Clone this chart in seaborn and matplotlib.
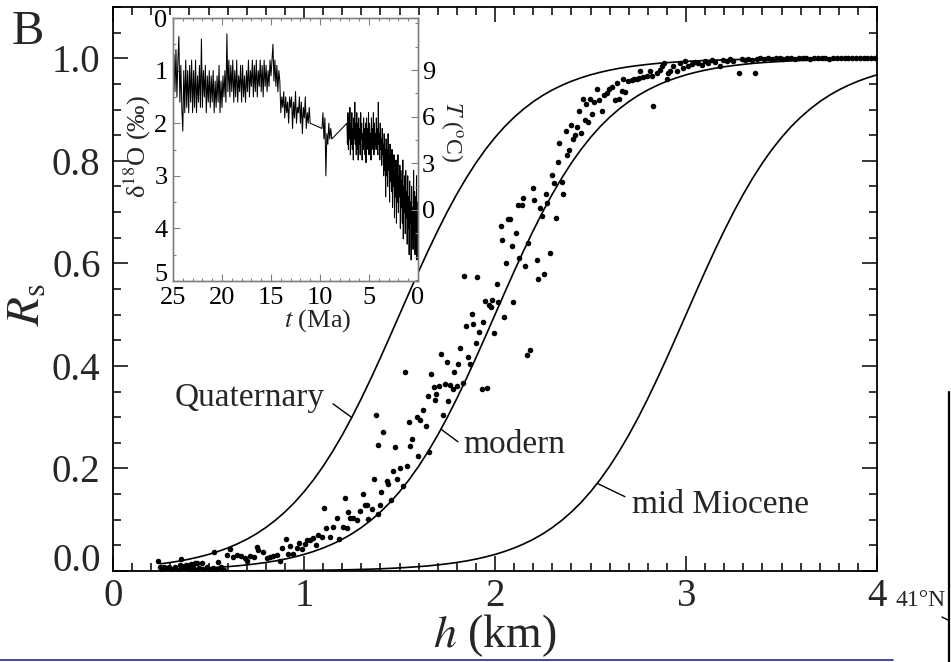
import numpy as np
import matplotlib
matplotlib.use("Agg")
import matplotlib.pyplot as plt
import seaborn as sns
from matplotlib.ticker import MultipleLocator, FormatStrFormatter
from matplotlib.lines import Line2D

# ---------------- data ----------------
h_grid = np.round(np.linspace(0.25, 4.0, 76), 3)

R_quaternary = [0.0141, 0.0166, 0.0196, 0.0232, 0.0274, 0.0323, 0.0381, 0.0448, 0.0527, 0.0618,
                0.0724, 0.0847, 0.0989, 0.1151, 0.1335, 0.1545, 0.1780, 0.2042, 0.2333, 0.2650,
                0.2994, 0.3363, 0.3752, 0.4158, 0.4576, 0.5000, 0.5424, 0.5842, 0.6248, 0.6637,
                0.7006, 0.7350, 0.7667, 0.7958, 0.8220, 0.8455, 0.8665, 0.8849, 0.9011, 0.9153,
                0.9276, 0.9382, 0.9473, 0.9552, 0.9619, 0.9677, 0.9726, 0.9768, 0.9804, 0.9834,
                0.9859, 0.9881, 0.9900, 0.9915, 0.9928, 0.9939, 0.9949, 0.9957, 0.9964, 0.9969,
                0.9974, 0.9978, 0.9982, 0.9984, 0.9987, 0.9989, 0.9991, 0.9992, 0.9993, 0.9994,
                0.9995, 0.9996, 0.9997, 0.9997, 0.9998, 0.9998]

R_modern = [0.0026, 0.0031, 0.0036, 0.0043, 0.0051, 0.0061, 0.0072, 0.0085, 0.0100, 0.0119,
            0.0141, 0.0166, 0.0196, 0.0232, 0.0274, 0.0323, 0.0381, 0.0448, 0.0527, 0.0618,
            0.0724, 0.0847, 0.0989, 0.1151, 0.1335, 0.1545, 0.1780, 0.2042, 0.2333, 0.2650,
            0.2994, 0.3363, 0.3752, 0.4158, 0.4576, 0.5000, 0.5424, 0.5842, 0.6248, 0.6637,
            0.7006, 0.7350, 0.7667, 0.7958, 0.8220, 0.8455, 0.8665, 0.8849, 0.9011, 0.9153,
            0.9276, 0.9382, 0.9473, 0.9552, 0.9619, 0.9677, 0.9726, 0.9768, 0.9804, 0.9834,
            0.9859, 0.9881, 0.9900, 0.9915, 0.9928, 0.9939, 0.9949, 0.9957, 0.9964, 0.9969,
            0.9974, 0.9978, 0.9982, 0.9984, 0.9987, 0.9989]

R_miocene = [0.0001, 0.0001, 0.0001, 0.0001, 0.0002, 0.0002, 0.0002, 0.0003, 0.0003, 0.0004,
             0.0005, 0.0006, 0.0007, 0.0008, 0.0009, 0.0011, 0.0013, 0.0016, 0.0018, 0.0022,
             0.0026, 0.0031, 0.0036, 0.0043, 0.0051, 0.0061, 0.0072, 0.0085, 0.0100, 0.0119,
             0.0141, 0.0166, 0.0196, 0.0232, 0.0274, 0.0323, 0.0381, 0.0448, 0.0527, 0.0618,
             0.0724, 0.0847, 0.0989, 0.1151, 0.1335, 0.1545, 0.1780, 0.2042, 0.2333, 0.2650,
             0.2994, 0.3363, 0.3752, 0.4158, 0.4576, 0.5000, 0.5424, 0.5842, 0.6248, 0.6637,
             0.7006, 0.7350, 0.7667, 0.7958, 0.8220, 0.8455, 0.8665, 0.8849, 0.9011, 0.9153,
             0.9276, 0.9382, 0.9473, 0.9552, 0.9619, 0.9677]

# observed points (h in km, Rs)
h_obs = [0.246, 0.255, 0.267, 0.281, 0.295, 0.307, 0.325, 0.342, 0.360, 0.372, 0.389, 0.403,
         0.417, 0.435, 0.452, 0.473, 0.494, 0.508, 0.525, 0.546, 0.565, 0.581, 0.350, 0.382,
         0.410, 0.429, 0.442, 0.464, 0.234, 0.356, 0.551, 0.531, 0.595, 0.613, 0.630, 0.647,
         0.668, 0.691, 0.700, 0.717, 0.738, 0.752, 0.761, 0.787, 0.805, 0.822, 0.839, 0.857,
         0.874, 0.887, 0.904, 0.918, 0.927, 0.944, 0.962, 0.976, 0.988, 1.005, 1.014, 1.031,
         1.049, 1.063, 1.075, 1.093, 1.105, 1.115, 1.136, 1.154, 1.171, 1.185, 1.206, 1.215,
         1.227, 1.232, 1.241, 1.258, 1.279, 1.293, 1.307, 1.320, 1.328, 1.337, 1.354, 1.368,
         1.389, 1.398, 1.403, 1.433, 1.442, 1.455, 1.468, 1.489, 1.517,
         # middle part
         2.148, 2.265, 2.122, 2.139, 2.206, 2.235, 2.247, 2.274, 2.079, 2.070, 2.030, 2.108,
         2.038, 2.174, 2.087, 2.127, 2.058, 2.218, 2.288, 2.157, 2.256, 2.227, 1.838, 1.906,
         2.009, 1.948, 1.971, 1.986, 1.979, 2.017, 2.096, 1.878, 1.848, 1.887, 1.939, 2.049,
         1.916, 1.996, 1.899, 1.817, 1.860, 1.717, 1.747, 1.808, 1.869, 1.787, 2.183, 2.169,
         1.529, 1.665, 1.681, 1.709, 1.738, 1.764, 1.778, 1.799, 1.831, 1.930, 1.956, 1.647,
         1.691, 1.686, 1.756, 1.621, 1.590, 1.607, 1.550, 1.729, 1.637, 1.377, 1.415, 1.564,
         1.389, 1.476, 1.555, 1.599, 1.656, 1.503, 1.538,
         # upper part
         2.197, 2.300, 2.309, 2.319, 2.328, 2.336, 2.349, 2.358, 2.372, 2.379, 2.389, 2.398,
         2.406, 2.419, 2.428, 2.440, 2.449, 2.459, 2.471, 2.477, 2.489, 2.497, 2.510, 2.518,
         2.532, 2.546, 2.558, 2.571, 2.585, 2.599, 2.614, 2.628, 2.637, 2.651, 2.663, 2.672,
         2.681, 2.698, 2.716, 2.728, 2.742, 2.756, 2.759, 2.777, 2.794, 2.811, 2.820, 2.829,
         2.846, 2.864, 2.873, 2.885, 2.898, 2.907, 2.916, 2.933, 2.951, 2.968, 2.982, 2.995,
         3.012, 3.029, 3.047, 3.064, 3.082, 3.099, 3.117, 3.134, 3.152, 3.178, 3.195, 3.213,
         3.230, 3.248, 3.279, 3.291, 3.308, 3.326, 3.343, 3.361,
         # saturated tail
         3.37, 3.39, 3.41, 3.43, 3.45, 3.47, 3.49, 3.51, 3.53, 3.55, 3.57, 3.59, 3.61, 3.63,
         3.65, 3.67, 3.69, 3.71, 3.73, 3.75, 3.77, 3.79, 3.81, 3.83, 3.85, 3.87, 3.89, 3.91,
         3.93, 3.95, 3.97, 3.99]

R_obs = [0.0085, 0.0033, 0.0072, 0.0052, 0.0085, 0.0033, 0.0072, 0.0020, 0.0098, 0.0052, 0.0085, 0.0033,
         0.0072, 0.0020, 0.0052, 0.0033, 0.0072, 0.0020, 0.0052, 0.0033, 0.0072, 0.0020, 0.0125, 0.0117,
         0.0135, 0.0150, 0.0163, 0.0163, 0.0195, 0.0234, 0.0176, 0.0365, 0.0313, 0.0430, 0.0280, 0.0313,
         0.0293, 0.0247, 0.0202, 0.0293, 0.0280, 0.0475, 0.0410, 0.0378, 0.0247, 0.0280, 0.0293, 0.0313,
         0.0202, 0.0456, 0.0620, 0.0332, 0.0488, 0.0340, 0.0443, 0.0540, 0.0430, 0.0527, 0.0605, 0.0605,
         0.0638, 0.0508, 0.0700, 0.0671, 0.1237, 0.0846, 0.0671, 0.0866, 0.1029, 0.0620, 0.0866, 0.1430,
         0.0846, 0.1160, 0.1029, 0.1029, 0.1000, 0.1170, 0.1500, 0.1290, 0.1290, 0.1010, 0.1211, 0.1800,
         0.1120, 0.1280, 0.1540, 0.1750, 0.1700, 0.1390, 0.1960, 0.1790, 0.1660,
         0.728, 0.736, 0.713, 0.713, 0.723, 0.708, 0.693, 0.718, 0.6875, 0.686, 0.673, 0.660,
         0.646, 0.640, 0.633, 0.611, 0.601, 0.606, 0.620, 0.594, 0.580, 0.570, 0.576, 0.573,
         0.560, 0.527, 0.519, 0.529, 0.515, 0.524, 0.525, 0.501, 0.477, 0.481, 0.486, 0.495,
         0.467, 0.464, 0.445, 0.434, 0.417, 0.423, 0.407, 0.404, 0.404, 0.389, 0.432, 0.422,
         0.388, 0.384, 0.358, 0.360, 0.365, 0.363, 0.355, 0.360, 0.366, 0.354, 0.356, 0.342,
         0.346, 0.334, 0.332, 0.314, 0.301, 0.295, 0.290, 0.305, 0.282, 0.305, 0.271, 0.257,
         0.246, 0.241, 0.244, 0.225, 0.232, 0.200, 0.205,
         0.747, 0.773, 0.756, 0.689, 0.797, 0.835, 0.759, 0.736, 0.858, 0.812, 0.822, 0.869,
         0.843, 0.850, 0.865, 0.897, 0.855, 0.920, 0.880, 0.911, 0.876, 0.921, 0.892, 0.915,
         0.940, 0.918, 0.898, 0.928, 0.933, 0.941, 0.943, 0.918, 0.951, 0.920, 0.936, 0.959,
         0.935, 0.956, 0.958, 0.960, 0.959, 0.962, 0.975, 0.964, 0.965, 0.975, 0.966, 0.907,
         0.972, 0.978, 0.985, 0.990, 0.960, 0.972, 0.975, 0.985, 0.975, 0.991, 0.982, 0.995,
         0.985, 0.988, 0.993, 0.990, 0.986, 0.995, 0.991, 0.996, 0.993, 0.985, 0.996, 0.994,
         0.998, 0.995, 0.972, 0.998, 0.996, 0.999, 0.996, 0.972,
         0.999, 1.000, 0.999, 1.000, 0.999, 1.000, 1.000, 0.999, 1.000, 1.000, 0.999, 1.000,
         1.000, 1.000, 0.999, 1.000, 1.000, 1.000, 1.000, 0.999, 1.000, 1.000, 1.000, 1.000,
         1.000, 1.000, 1.000, 1.000, 1.000, 1.000, 1.000, 1.000]

# inset: benthic d18O record, three sampled segments (start Ma, end Ma)
seg1_span = (25.0, 11.0)
d18O_seg1 = [1.2, 0.7, 1.4, 0.6, 1.5, 0.8, 0.35, 1.6, 0.9, 1.7,
             2.15, 1.0, 1.8, 0.8, 1.7, 1.0, 1.8, 0.9, 1.6, 0.8,
             1.8, 1.0, 1.7, 0.8, 1.8, 1.1, 1.6, 0.9, 1.7, 0.4,
             1.7, 1.0, 1.5, 0.9, 1.8, 1.1, 1.6, 1.0, 1.7, 1.1,
             1.6, 1.0, 1.8, 1.2, 1.7, 1.1, 1.6, 0.9, 1.8, 1.2,
             1.7, 1.1, 1.5, 1.0, 1.6, 0.3, 1.4, 0.8, 1.5, 0.9,
             1.4, 0.8, 1.6, 1.0, 1.5, 0.8, 1.6, 1.1, 1.4, 0.9,
             1.6, 0.9, 1.5, 1.1, 1.6, 1.0, 1.4, 0.8, 1.5, 1.0,
             1.3, 0.8, 1.5, 0.9, 1.4, 0.8, 1.5, 1.0, 1.3, 0.8,
             1.4, 0.9, 1.5, 0.8, 1.3, 0.9, 1.4, 1.0, 1.3, 0.8,
             1.1, 0.8, 0.5, 1.2, 0.8, 1.3, 0.9, 1.4, 1.0, 1.2,
             1.8, 1.5, 1.7, 1.4, 1.9, 1.5, 1.8, 1.6, 2.0, 1.5,
             1.7, 1.5, 2.1, 1.6, 1.9, 1.4, 2.0, 1.7, 1.8, 1.5,
             2.0, 1.6, 2.2, 1.7, 1.9, 1.5, 2.1, 1.8, 2.0, 1.7,
             2.0]
seg2_span = (9.8, 8.8)
d18O_seg2 = [2.1, 1.8, 2.3, 1.9, 3.0, 2.2, 2.4, 2.0, 2.3, 2.1, 2.3]
seg3_span = (7.25, 0.0)
d18O_seg3 = [2.0, 2.4, 1.8, 2.5, 1.9, 2.3, 1.7, 2.6, 2.0, 2.4, 1.8, 2.5, 2.1, 2.7, 1.9, 2.3, 1.6, 2.4, 2.0, 2.6,
             1.8, 2.5, 2.0, 2.7, 1.9, 2.4, 2.1, 2.6, 1.8, 2.3, 2.0, 2.7, 2.2, 2.5, 1.9, 2.4, 2.1, 2.6, 2.0, 2.75,
             1.9, 2.4, 2.1, 2.5, 1.8, 2.6, 2.0, 2.3, 2.2, 2.7, 1.9, 2.5, 2.1, 2.4, 1.8, 2.6, 2.0, 2.5, 2.2, 2.4,
             1.9, 2.5, 2.1, 2.6, 1.6, 2.4, 2.2, 2.7, 2.0, 2.5, 2.3, 2.8, 2.1, 2.6, 2.4, 3.0, 2.2, 2.9, 2.5, 3.4,
             2.3, 3.0, 2.5, 3.2, 2.2, 2.9, 2.6, 3.5, 2.4, 3.1, 2.7, 3.3, 2.5, 3.6, 2.8, 3.2, 2.6, 3.8, 2.9, 3.4,
             2.7, 3.9, 2.8, 3.5, 2.6, 3.7, 3.0, 3.4, 2.8, 4.0, 2.9, 3.6, 3.1, 3.9, 2.7, 4.2, 3.2, 3.7, 3.0, 4.1,
             2.9, 3.8, 3.3, 4.3, 3.0, 4.0, 3.4, 4.5, 3.1, 3.9, 3.5, 4.6, 3.2, 4.2, 3.6, 4.4, 2.9, 4.1, 3.3, 4.5,
             3.4, 4.3, 3.0, 4.6, 3.5, 4.0]

# temperature axis limits matching d18O = 0 (top) and 5 (bottom)
T_at_top, T_at_bottom = 12.35, -4.57
T_ticks = [0, 3, 6, 9]

curve_labels = ["Quaternary", "modern", "mid Miocene"]

# ---------------- style ----------------
sns.set_theme(style="white")
plt.rcParams['font.family'] = ['Liberation Serif', 'DejaVu Serif']
plt.rcParams['mathtext.fontset'] = 'stix'
plt.rcParams['axes.edgecolor'] = 'black'

W, H = 951, 662
fig = plt.figure(figsize=(W / 100, H / 100), dpi=100)
fig.patch.set_facecolor('white')

# main axes
ax = fig.add_axes([113 / W, 1 - 571 / H, 764 / W, 564 / H])
for R_curve in (R_quaternary, R_modern, R_miocene):
    sns.lineplot(x=h_grid, y=R_curve, ax=ax, color='black', lw=1.2, estimator=None)
sns.scatterplot(x=h_obs, y=R_obs, ax=ax, color='black', s=16, linewidth=0, zorder=3)

ax.set_xlim(0, 4)
ax.set_ylim(0, 1.1)
ax.xaxis.set_major_locator(MultipleLocator(1))
ax.xaxis.set_minor_locator(MultipleLocator(0.1))
ax.yaxis.set_major_locator(MultipleLocator(0.2))
ax.yaxis.set_minor_locator(MultipleLocator(0.05))
ax.yaxis.set_major_formatter(FormatStrFormatter('%.1f'))
for s in ax.spines.values():
    s.set_color('black')
    s.set_linewidth(1.3)
ax.tick_params(which='both', direction='in', top=True, right=True, bottom=True, left=True,
               color='black', width=1.1)
ax.tick_params(which='major', length=11)
ax.tick_params(which='minor', length=5.5)
ax.tick_params(axis='y', which='major', labelsize=28, pad=9)
ax.tick_params(axis='x', which='major', labelsize=28, pad=5)

ax.set_xlabel(r'$h$ (km)', fontsize=33, va='center')
ax.xaxis.set_label_coords(0.5, -0.115)
ax.set_ylabel(r'$R_{\rm s}$', fontsize=34, va='center', ha='center')
ax.yaxis.set_label_coords(-0.111, 0.472)

# curve annotations
ax.text(1.11, 0.338, curve_labels[0], ha='right', va='center', fontsize=24)
ax.plot([1.152, 1.25], [0.326, np.interp(1.25, h_grid, R_quaternary)], color='black', lw=1.0)
ax.text(1.832, 0.246, curve_labels[1], ha='left', va='center', fontsize=24)
ax.plot([1.806, 1.717], [0.252, np.interp(1.717, h_grid, R_modern)], color='black', lw=1.0)
ax.text(2.717, 0.130, curve_labels[2], ha='left', va='center', fontsize=24)
ax.plot([2.68, 2.535], [0.145, np.interp(2.535, h_grid, R_miocene)], color='black', lw=1.0)

# inset
axi = fig.add_axes([173 / W, 1 - 281 / H, 245 / W, 263 / H])
axi.set_facecolor('white')
t_all = np.concatenate([np.linspace(*seg1_span, len(d18O_seg1)),
                        np.linspace(*seg2_span, len(d18O_seg2)),
                        np.linspace(*seg3_span, len(d18O_seg3))])
d_all = np.concatenate([d18O_seg1, d18O_seg2, d18O_seg3])
sns.lineplot(x=t_all, y=d_all, ax=axi, color='black', lw=0.75, sort=False, estimator=None)
axi.set_xlim(25, 0)
axi.set_ylim(5, 0)
axi.xaxis.set_major_locator(MultipleLocator(5))
axi.xaxis.set_minor_locator(MultipleLocator(1))
axi.yaxis.set_major_locator(MultipleLocator(1))
axi.yaxis.set_minor_locator(MultipleLocator(0.5))
for s in axi.spines.values():
    s.set_color('#808080')
    s.set_linewidth(1.0)
axi.tick_params(which='both', direction='in', top=True, bottom=True, left=True, right=False,
                color='#808080', labelcolor='black', width=0.8)
axi.tick_params(which='major', length=5)
axi.tick_params(which='minor', length=2.5)
axi.tick_params(axis='x', labelsize=19, pad=4)
axi.tick_params(axis='y', labelsize=19, pad=4)
axi.set_xlabel(r'$t$ (Ma)', fontsize=19, va='center')
axi.xaxis.set_label_coords(0.59, -0.15)
axi.set_ylabel(r'δ$^{18}$O (‰)', fontsize=19, va='center', ha='center')
axi.yaxis.set_label_coords(-0.147, 0.51)

axt = axi.twinx()
axt.set_ylim(T_at_bottom, T_at_top)
axt.set_yticks(T_ticks)
axt.yaxis.set_minor_locator(MultipleLocator(1.5))
axt.grid(False)
for s in axt.spines.values():
    s.set_color('#808080')
    s.set_linewidth(1.0)
axt.tick_params(which='both', direction='in', right=True, left=False, color='#808080',
                labelcolor='black', width=0.8, labelsize=19, pad=3)
axt.tick_params(which='major', length=5)
axt.tick_params(which='minor', length=2.5)
axt.set_ylabel(r'$T$ ($^{\rm o}$C)', fontsize=17, rotation=-90, va='center', ha='center')
axt.yaxis.set_label_coords(1.14, 0.567)

# panel letter and page fragments
fig.text(12 / W, 1 - 10 / H, 'B', fontsize=35, va='top', ha='left')
fig.text(895 / W, 1 - 600 / H, '41°N', fontsize=17, va='center', ha='left')
fig.add_artist(Line2D([949 / W, 949 / W], [1 - 392 / H, 0], color='black', lw=1.6))
fig.add_artist(Line2D([942 / W, 948 / W], [1 - 617 / H, 1 - 620 / H], color='black', lw=1.0))
fig.add_artist(Line2D([0, 893 / W], [1 - 660 / H, 1 - 660 / H], color='#1f2a8c', lw=1.2))

# lift the corner labels ("0.0" of the main axes, "5" of the inset) as in the original
fig.canvas.draw()
for tick in ax.yaxis.get_major_ticks():
    if abs(tick.get_loc()) < 1e-9:
        tick.label1.set_verticalalignment('baseline')
for tick in axi.yaxis.get_major_ticks():
    if abs(tick.get_loc() - 5) < 1e-9:
        tick.label1.set_verticalalignment('baseline')

fig.savefig('out.png', dpi=100)
